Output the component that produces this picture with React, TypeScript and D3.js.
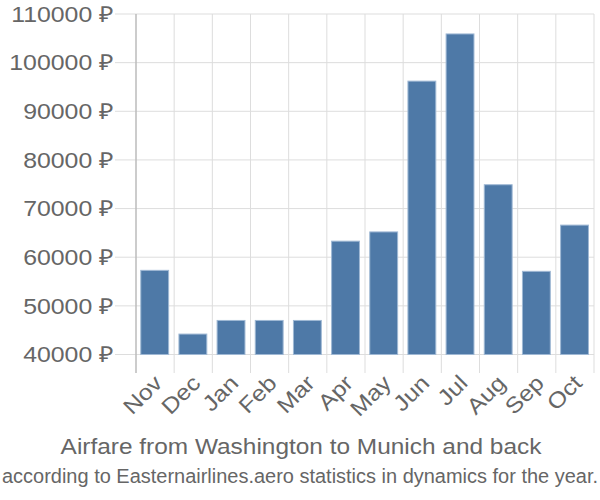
import React from "react";
import * as d3 from "d3";

const months = ["Nov", "Dec", "Jan", "Feb", "Mar", "Apr", "May", "Jun", "Jul", "Aug", "Sep", "Oct"];
const prices = [57300, 44200, 47000, 47000, 47000, 63300, 65200, 96200, 105900, 74900, 57100, 66600];
const yTicks = [40000, 50000, 60000, 70000, 80000, 90000, 100000, 110000];
const title = "Airfare from Washington to Munich and back";
const subtitle = "according to Easternairlines.aero statistics in dynamics for the year.";

export default function App() {
  const W = 600, H = 500;
  const left = 136, right = 594, top = 14, bottom = 354.5;
  const x = d3.scaleBand<string>().domain(months).range([left, right]).padding(0);
  const y = d3.scaleLinear().domain([40000, 110000]).range([bottom, top]);
  const bw = x.bandwidth();
  const font = "'Liberation Sans', Arial, sans-serif";
  const textColor = "#666";
  const sx = 1.13;
  return (
    <svg width={W} height={H} style={{ position: "absolute", left: 0, top: 0 }} fontFamily={font}>
      <rect width={W} height={H} fill="#fff" />
      {yTicks.map((t) => (
        <g key={t}>
          <line x1={115} x2={right} y1={y(t)} y2={y(t)} stroke="#ddd" strokeWidth={1} />
          <text transform={`translate(114,${y(t)}) scale(${sx},1)`} dy="0.35em" textAnchor="end" fontSize={22} fill={textColor}>
            {t} ₽
          </text>
        </g>
      ))}
      {months.map((m) => (
        <line key={m} x1={x(m)!} x2={x(m)!} y1={top} y2={373} stroke="#ddd" strokeWidth={1} />
      ))}
      <line x1={right} x2={right} y1={top} y2={373} stroke="#ddd" strokeWidth={1} />
      <line x1={left} x2={left} y1={top} y2={373} stroke="#aaa" strokeWidth={1} />
      {months.map((m, i) => (
        <rect
          key={m}
          x={x(m)! + bw * 0.125}
          width={bw * 0.73}
          y={y(prices[i])}
          height={bottom - y(prices[i])}
          fill="#4e79a7"
          stroke="#9fb8d4"
          strokeWidth={1}
        />
      ))}
      {months.map((m) => {
        const cx = x(m)! + bw / 2 + 3;
        return (
          <text
            key={m}
            transform={`translate(${cx},${379}) rotate(-45) scale(${sx},1)`}
            textAnchor="end"
            dy="0.35em"
            fontSize={22}
            fill={textColor}
          >
            {m}
          </text>
        );
      })}
      <text transform={`translate(301,454) scale(1.11,1)`} textAnchor="middle" fontSize={22} fill={textColor}>
        {title}
      </text>
      <text x={300} y={483} textAnchor="middle" fontSize={20} fill={textColor} textLength={596} lengthAdjust="spacingAndGlyphs">
        {subtitle}
      </text>
    </svg>
  );
}
